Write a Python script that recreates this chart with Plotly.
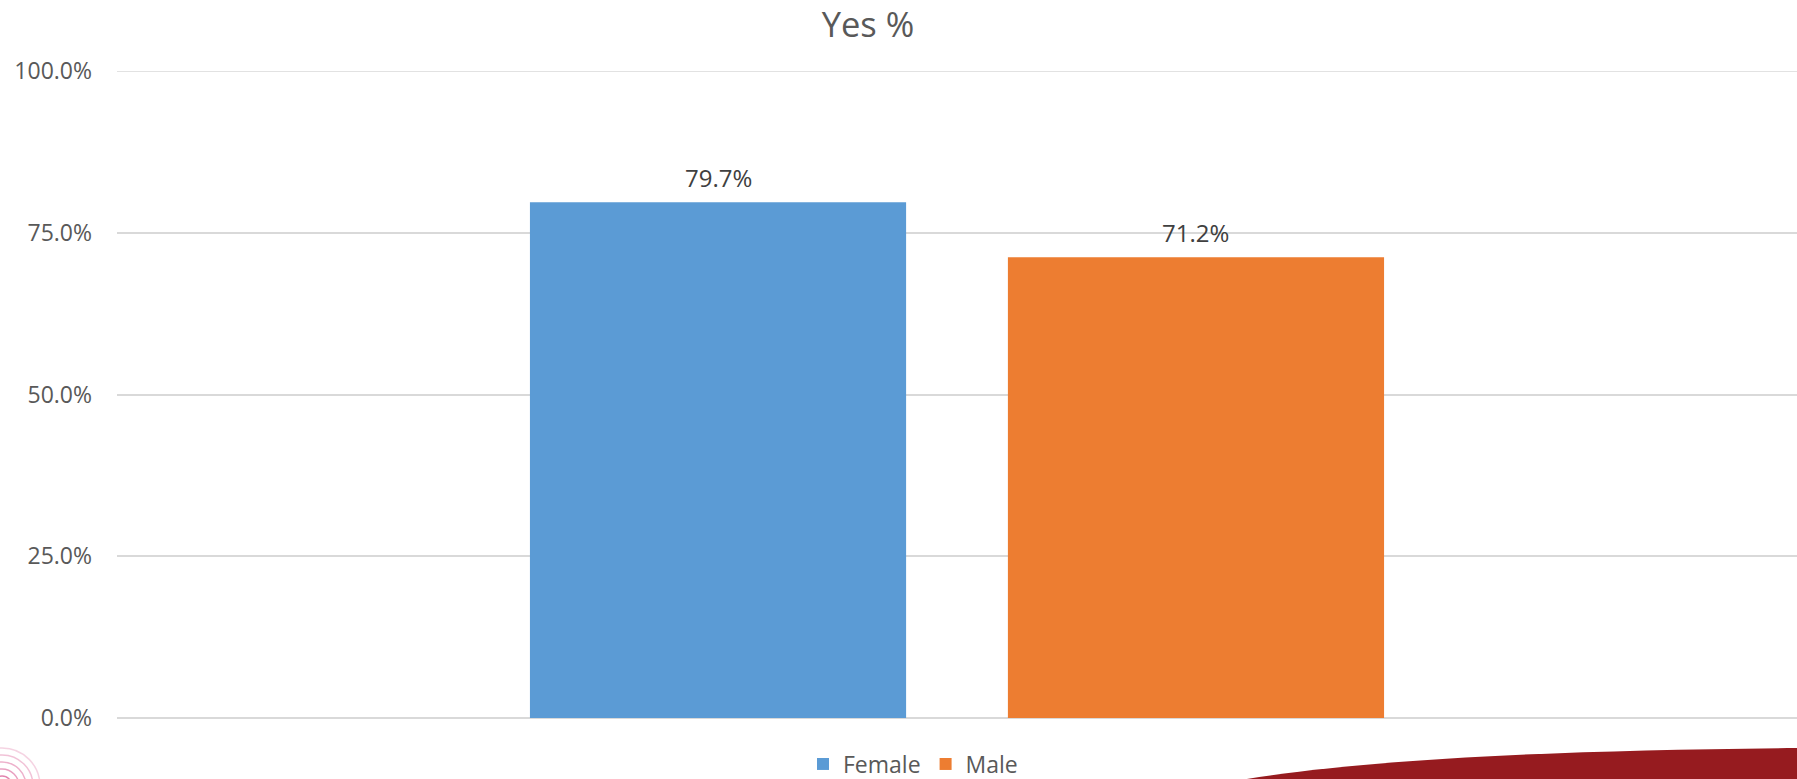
import plotly.graph_objects as go

# ---- data ----
category = ["Yes %"]
series_names = ["Female", "Male"]
female_values = [0.797]
male_values = [0.712]
series_colors = ["#5B9BD5", "#ED7D31"]
tick_values = [0, 0.25, 0.5, 0.75, 1.0]
tick_labels = ["0.0%", "25.0%", "50.0%", "75.0%", "100.0%"]

W, H = 1797, 779
ML, MR, MT, MB = 117, 0, 71, 61
PW, PH = W - ML - MR, H - MT - MB
BARGAP, BARGROUPGAP = 0.431, 0.213

def px(xp, yp):
    """pixel -> paper coords"""
    return (xp - ML) / PW, (H - MB - yp) / PH

fig = go.Figure()
all_vals = [female_values, male_values]
for name, vals, col in zip(series_names, all_vals, series_colors):
    fig.add_trace(go.Bar(x=category, y=vals, name=name, marker=dict(color=col, line=dict(width=0))))

# data labels
n = len(series_names)
group_w = 1 - BARGAP
for i, vals in enumerate(all_vals):
    offset = -group_w / 2 + group_w / n * (i + 0.5)
    for v in vals:
        fig.add_annotation(x=offset, y=v, xref="x", yref="y", text=f"{v*100:.1f}%",
                           showarrow=False, yanchor="middle", yshift=25,
                           font=dict(family="Open Sans", size=24, color="#404040"))

# 100% top gridline (plotly drops gridlines sitting on the plot edge)
fig.add_shape(type="line", xref="paper", yref="y", x0=0, x1=1, y0=1.0, y1=1.0,
              line=dict(color="#D9D9D9", width=1.5), layer="below")

# decorative swoosh (bottom right)
p0, c1, c2, p3 = px(1235, 781), px(1355, 760), px(1550, 750), px(1800, 748)
b1, b2 = px(1800, 782), px(1235, 782)
path = (f"M{p0[0]},{p0[1]} C{c1[0]},{c1[1]} {c2[0]},{c2[1]} {p3[0]},{p3[1]} "
        f"L{b1[0]},{b1[1]} L{b2[0]},{b2[1]} Z")
fig.add_shape(type="path", path=path, xref="paper", yref="paper",
              fillcolor="#961B1F", line=dict(width=0), layer="above")

# decorative spiral logo (bottom left)
for r, op in zip([10, 17, 24, 31, 38], [0.7, 0.55, 0.45, 0.35, 0.25]):
    x0, y0 = px(2 - r, 786 - r)
    x1, y1 = px(2 + r, 786 + r)
    fig.add_shape(type="circle", xref="paper", yref="paper", x0=x0, y0=y1, x1=x1, y1=y0,
                  line=dict(color=f"rgba(214,80,140,{op})", width=1.5), layer="above")

fig.update_layout(
    width=W, height=H,
    margin=dict(l=ML, r=MR, t=MT, b=MB, autoexpand=False),
    paper_bgcolor="white", plot_bgcolor="white",
    barmode="group", bargap=BARGAP, bargroupgap=BARGROUPGAP,
    title=dict(text="Yes %", x=868 / W, xref="container", xanchor="center",
               y=1 - 25 / H, yref="container", yanchor="middle",
               font=dict(family="Open Sans", size=34.5, color="#595959")),
    font=dict(family="Open Sans", color="#595959"),
    showlegend=True,
    legend=dict(orientation="h", x=(913 - ML) / PW, xanchor="center",
                y=(H - MB - 764) / PH, yanchor="middle",
                font=dict(family="Open Sans", size=23, color="#595959"),
                itemwidth=30, tracegroupgap=0, bgcolor="rgba(0,0,0,0)"),
    xaxis=dict(showticklabels=False, showgrid=False, zeroline=False, showline=False,
               ticks="", range=[-0.5, 0.5]),
    yaxis=dict(range=[0, 1], tickvals=tick_values, ticktext=tick_labels,
               showgrid=True, gridcolor="#D9D9D9", gridwidth=1.5,
               zeroline=True, zerolinecolor="#D9D9D9", zerolinewidth=1.5,
               showline=False, ticks="",
               ticklabelstandoff=24,
               tickfont=dict(family="Open Sans", size=23, color="#595959")),
)

fig.write_html("out.html", config={"displayModeBar": False},
               post_script="document.body.style.margin='0';document.body.style.overflow='hidden';")
